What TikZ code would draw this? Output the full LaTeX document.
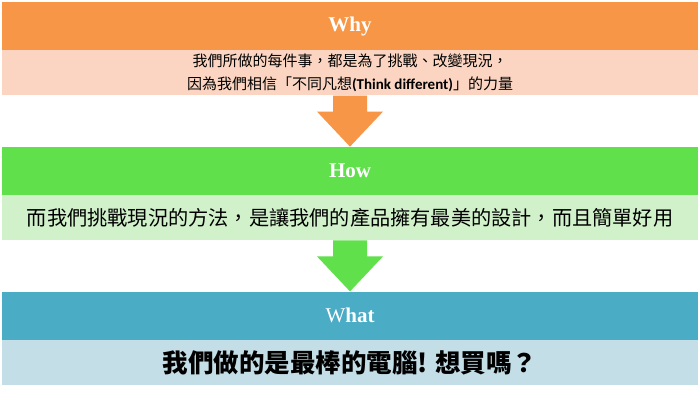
\documentclass[tikz,border=0pt]{standalone}
\usepackage{fontspec}
\setmainfont{Liberation Serif}
\newfontfamily\cjk{Noto Sans CJK TC}
\newfontfamily\carlito{Carlito}
\usetikzlibrary{positioning,calc}

\definecolor{whyc}{HTML}{F79646}
\definecolor{whyl}{HTML}{FBD5C1}
\definecolor{howc}{HTML}{60E04A}
\definecolor{howl}{HTML}{D1F1CA}
\definecolor{whatc}{HTML}{4BACC6}
\definecolor{whatl}{HTML}{C3DEE6}

\begin{document}
\begin{tikzpicture}[
  x=1pt, y=-1pt,
  head/.style={minimum width=696pt, minimum height=48pt, inner sep=0pt,
    text=white, font=\fontsize{21}{24}\selectfont\bfseries},
  band/.style={minimum width=696pt, minimum height=45pt, inner sep=0pt, align=center},
  blk/.style={to path={let \p1=(\tikztostart) in
    (\x1-17pt,\y1) -- (\x1-17pt,\y1-16pt) -- (\x1-33pt,\y1-16pt) -- (\tikztotarget)
    -- (\x1+33pt,\y1-16pt) -- (\x1+17pt,\y1-16pt) -- (\x1+17pt,\y1) -- cycle}}
]
\useasboundingbox[fill=white] (0,0) rectangle (700,403);

\node[head, fill=whyc] (whyhead) at (350,26) {Why};
\node[band, fill=whyl, below=0pt of whyhead, font=\cjk\fontsize{15}{23}\selectfont] (whytext)
  {我們所做的每件事，都是為了挑戰、改變現況，\\
   因為我們相信「不同凡想{\carlito\bfseries (Think different)}」的力量};

\node[head, fill=howc, below=51pt of whytext] (howhead) {How};
\node[band, fill=howl, below=0pt of howhead, font=\cjk\fontsize{20.2}{24}\selectfont] (howtext)
  {而我們挑戰現況的方法，是讓我們的產品擁有最美的設計，而且簡單好用};

\node[head, fill=whatc, below=51pt of howtext] (whathead) {{\mdseries W}hat};
\node[band, fill=whatl, below=0pt of whathead, font=\cjk\fontsize{25.5}{28}\selectfont\bfseries] (whattext)
  {我們做的是最棒的電腦! 想買嗎？};

\path[fill=whyc] (whytext.south) to[blk] (howhead.north);
\path[fill=howc] (howtext.south) to[blk] (whathead.north);

\end{tikzpicture}
\end{document}
